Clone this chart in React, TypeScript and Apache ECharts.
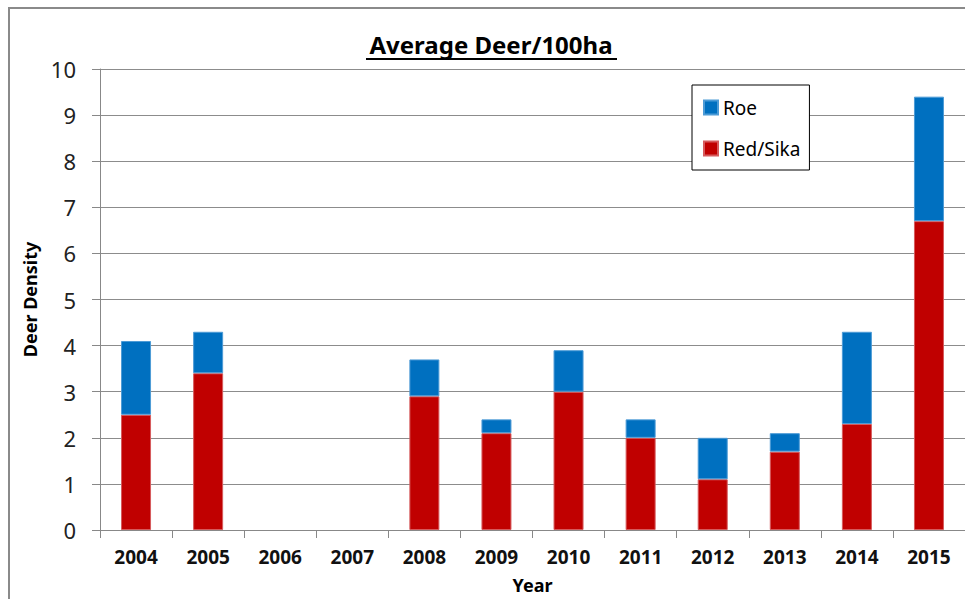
import React, { useEffect, useRef } from "react";
import * as echarts from "echarts";

const years = ["2004", "2005", "2006", "2007", "2008", "2009", "2010", "2011", "2012", "2013", "2014", "2015"];
const redSika = [2.5, 3.4, null, null, 2.9, 2.1, 3.0, 2.0, 1.1, 1.7, 2.3, 6.7];
const roe = [1.6, 0.9, null, null, 0.8, 0.3, 0.9, 0.4, 0.9, 0.4, 2.0, 2.7];
const yTicks = { min: 0, max: 10, interval: 1 };
const titleText = "Average Deer/100ha";

const FONT = "'Noto Sans', sans-serif";

export default function App() {
  const ref = useRef<HTMLDivElement>(null);
  useEffect(() => {
    if (!ref.current) return;
    const chart = echarts.init(ref.current, null, { renderer: "svg" });
    chart.setOption({
      animation: false,
      backgroundColor: "#ffffff",
      title: {
        text: titleText,
        left: 491,
        textAlign: "center",
        top: 32,
        padding: 0,
        textStyle: { fontFamily: FONT, fontWeight: "bold", fontSize: 24, color: "#000" },
      },
      graphic: [
        {
          type: "rect",
          shape: { x: 9, y: 8, width: 1200, height: 800 },
          style: { fill: "none", stroke: "#8a8a8a", lineWidth: 2 },
          silent: true,
        },
        {
          type: "line",
          shape: { x1: 366, y1: 59, x2: 617, y2: 59 },
          style: { stroke: "#000", lineWidth: 2 },
        },
      ],
      legend: {
        orient: "vertical",
        left: 692,
        top: 85,
        padding: [13, 9, 12, 11],
        itemGap: 22,
        itemWidth: 14,
        itemHeight: 14,
        borderColor: "#000",
        borderWidth: 1,
        backgroundColor: "#fff",
        icon: "rect",
        data: ["Roe", "Red/Sika"],
        textStyle: { fontFamily: FONT, fontSize: 19, color: "#000", lineHeight: 19 },
      },
      grid: { left: 100, top: 69, right: 0, bottom: 67, containLabel: false },
      xAxis: {
        type: "category",
        data: years,
        name: "Year",
        nameLocation: "middle",
        nameGap: 46,
        nameTextStyle: { fontFamily: FONT, fontWeight: "bold", fontSize: 18, color: "#000" },
        axisLine: { lineStyle: { color: "#888", width: 1 } },
        axisTick: { show: true, length: 8, lineStyle: { color: "#888" } },
        axisLabel: { fontFamily: FONT, fontWeight: "bold", fontSize: 19, color: "#111", margin: 17 },
      },
      yAxis: {
        type: "value",
        min: yTicks.min,
        max: yTicks.max,
        interval: yTicks.interval,
        name: "Deer Density",
        nameLocation: "middle",
        nameGap: 61,
        nameTextStyle: { fontFamily: FONT, fontWeight: "bold", fontSize: 18, color: "#000" },
        axisLine: { show: true, lineStyle: { color: "#888", width: 1 } },
        axisTick: { show: true, length: 8, lineStyle: { color: "#888" } },
        axisLabel: { fontFamily: FONT, fontSize: 22, color: "#222", margin: 24 },
        splitLine: { show: true, lineStyle: { color: "#8c8c8c", width: 1 } },
      },
      series: [
        {
          name: "Red/Sika",
          type: "bar",
          stack: "deer",
          barWidth: 30,
          data: redSika,
          itemStyle: { color: "#C00000", borderColor: "#d65a5c", borderWidth: 1 },
        },
        {
          name: "Roe",
          type: "bar",
          stack: "deer",
          barWidth: 30,
          data: roe,
          itemStyle: { color: "#0070C0", borderColor: "#4d9bd6", borderWidth: 1 },
        },
      ],
    });
    return () => chart.dispose();
  }, []);
  return (
    <div
      ref={ref}
      style={{ position: "fixed", left: 0, top: 0, width: 965, height: 599 }}
    />
  );
}
